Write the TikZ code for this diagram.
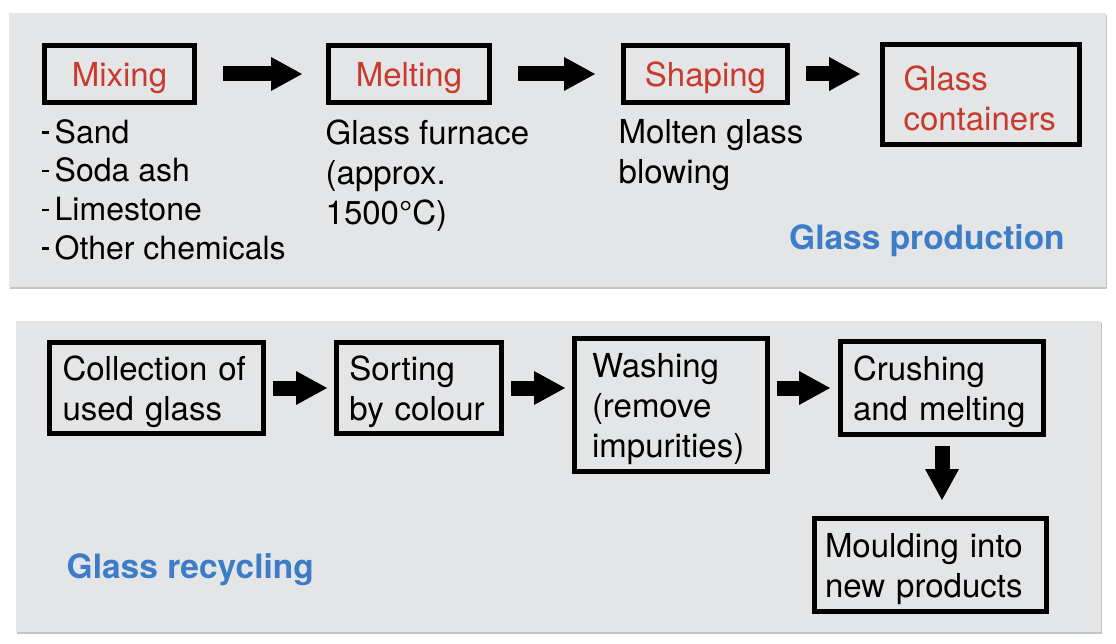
\documentclass[tikz,border=0pt]{standalone}
\usepackage{fontspec}
\setmainfont{TeX Gyre Heros}
\usetikzlibrary{arrows.meta}
\definecolor{panelgray}{HTML}{E4E5E7}
\definecolor{shadowgray}{HTML}{C4C4C4}
\definecolor{stepred}{HTML}{C9392C}
\definecolor{titleblue}{HTML}{3D7DC8}
\newcommand{\toppad}{\rule{0pt}{32pt}}
\newcommand{\itemdash}{\rule[9.5pt]{6.5pt}{2.3pt}\hspace{6pt}}
\tikzset{stepbox/.style = {draw, line width = 4.8pt, inner ysep = 0pt, align = left,
                           execute at begin node = \toppad},
         redbox/.style = {stepbox, text = stepred, align = center},
         notes/.style = {anchor = north west, inner sep = 0pt, align = left},
         title/.style = {anchor = base west, inner sep = 0pt, text = titleblue,
                         font = \fontsize{33.5}{40}\selectfont\bfseries},
         flow/.style = {line width = 15pt,
                        -{Triangle[length = 31pt, width = 34pt, line width = 0pt]}}}

\begin{document}
\begin{tikzpicture}% 
        [x = 1pt, y = -1pt, font = \fontsize{33}{40}\selectfont]
        \useasboundingbox (0,0) rectangle (1116,644);
        % panels
        \fill [shadowgray] (10,15) rectangle (1107,289);
        \fill [panelgray] (9,13) rectangle (1106,287);
        \fill [shadowgray] (17,323) rectangle (1102,634);
        \fill [panelgray] (16,321) rectangle (1101,632);

        % glass production
        \node [redbox, minimum width = 150.2pt, minimum height = 57.2pt] (mixing) at (119.5,74) {Mixing};
        \node [redbox, minimum width = 161.2pt, minimum height = 57.2pt] (melting) at (409,74) {Melting};
        \node [redbox, minimum width = 164.2pt, minimum height = 57.2pt] (shaping) at (705.5,74) {Shaping};
        \node [stepbox, text = stepred, text width = 155pt, inner xsep = 21pt, minimum height = 100.2pt] (containers) at (981,94.5) {Glass\\containers};

        \node [notes, font = \fontsize{32}{38.7}\selectfont] (ingredients) at (42,119) {\itemdash Sand\\\itemdash Soda ash\\\itemdash Limestone\\\itemdash Other chemicals};
        \node [notes] (furnace) at (325.5,119.3) {Glass furnace\\(approx.\\1500°C)};
        \node [notes] (blowing) at (618.5,119.3) {Molten glass\\blowing};
        \node [title] (production) at (789,250) {Glass production};

        \draw [flow, shorten <= 26pt, shorten >= 24pt] (mixing) -- (melting);
        \draw [flow, shorten <= 26pt, shorten >= 26pt] (melting) -- (shaping);
        \draw [flow, shorten <= 16pt, shorten >= 20pt] (shaping) -- (shaping -| containers.west);

        % glass recycling
        \node [stepbox, text width = 188pt, inner xsep = 13pt, minimum height = 91.2pt] (collection) at (156.5,388) {Collection of\\used glass};
        \node [stepbox, text width = 139.2pt, inner xsep = 13pt, minimum height = 91.2pt] (sorting) at (419,388) {Sorting\\by colour};
        \node [stepbox, text width = 158pt, inner xsep = 17.6pt, minimum height = 133.2pt] (washing) at (671,405) {Washing\\(remove\\impurities)};
        \node [stepbox, text width = 178pt, inner xsep = 12.6pt, minimum height = 93.2pt] (crushing) at (942,388) {Crushing\\and melting};
        \node [stepbox, text width = 211pt, inner xsep = 10.6pt, minimum height = 93.2pt] (moulding) at (930.5,565) {Moulding into\\new products};
        \node [title] (recycling) at (66.5,578) {Glass recycling};

        \draw [flow, shorten <= 7pt, shorten >= 7pt] (collection) -- (sorting);
        \draw [flow, shorten <= 7pt, shorten >= 7pt] (sorting) -- (sorting -| washing.west);
        \draw [flow, shorten <= 7pt, shorten >= 8pt] (washing.east |- crushing) -- (crushing);
        \draw [flow, shorten <= 9pt, shorten >= 16pt] (crushing) -- (crushing.south |- moulding.north);
    \end{tikzpicture}
\end{document}
